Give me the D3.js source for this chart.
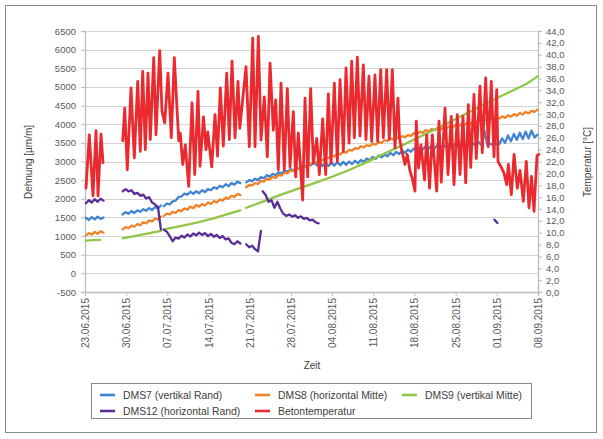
<!DOCTYPE html>
<html>
<head>
<meta charset="utf-8">
<script src="https://cdn.jsdelivr.net/npm/d3@7"></script>
<style>
  html, body { margin: 0; padding: 0; background: #fff; }
  svg { display: block; font-family: "Liberation Sans", Arial, sans-serif; }
</style>
</head>
<body>
<svg id="chart" width="603" height="439"></svg>
<script>
// ---- axes ----
const startDate = "23.06.2015";
const endDate = "08.09.2015";
const dateTicks = ["23.06.2015", "30.06.2015", "07.07.2015", "14.07.2015", "21.07.2015", "28.07.2015",
  "04.08.2015", "11.08.2015", "18.08.2015", "25.08.2015", "01.09.2015", "08.09.2015"];
const strainTicks = [-500, 0, 500, 1000, 1500, 2000, 2500, 3000, 3500, 4000, 4500, 5000, 5500, 6000, 6500];
const tempTicks = [0, 2, 4, 6, 8, 10, 12, 14, 16, 18, 20, 22, 24, 26, 28, 30, 32, 34, 36, 38, 40, 42, 44];

// ---- strain gauges [µm/m], sampled twice a day; each block: first day (since 23.06.) + readings ----
const sampleStep = 0.5;

const dms7 = [
  { start: 0.15, values: [1490, 1430, 1510, 1450, 1520, 1460, 1500] },
  { start: 6.4, values: [1580, 1640, 1600, 1670, 1620, 1690, 1650, 1720, 1680, 1750, 1700, 1780, 1740, 1820] },
  { start: 13.4, values: [1800, 1870, 1850, 1930, 1950, 2050, 2060, 2140, 2110, 2190, 2130, 2200, 2150, 2230,
    2180, 2260, 2230, 2310, 2270, 2350, 2310, 2390, 2340, 2420, 2380, 2460, 2420] },
  { start: 27.4, values: [2440, 2500, 2470, 2540, 2500, 2580, 2550, 2630, 2590, 2670,
    2630, 2710, 2680, 2760, 2720, 2800, 2760, 2840, 2800, 2880,
    2850, 2950, 2900, 2980, 2900, 2970, 2880, 2960, 2880, 2970,
    2890, 2980, 2900, 2990, 2910, 3000, 2930, 3020, 2950, 3040,
    2990, 3080, 3030, 3120, 3070, 3160, 3110, 3190, 3140, 3230,
    3170, 3260, 3200, 3290, 3230, 3320, 3260, 3350, 3290, 3380,
    3320, 3410, 3340, 3430, 3350, 3440, 3360, 3450, 3370, 3460,
    3380, 3470, 3390, 3480, 3400, 3490, 3410, 3500, 3420, 3520,
    3440, 3820, 3440, 3480, 3430, 3480, 3460, 3620, 3500, 3700,
    3540, 3740, 3580, 3770, 3600, 3800, 3620, 3830, 3640, 3720] }
];

const dms8 = [
  { start: 0.15, values: [1020, 1080, 1040, 1110, 1060, 1130, 1090] },
  { start: 6.4, values: [1180, 1240, 1210, 1280, 1250, 1320, 1290, 1370, 1340, 1420, 1390, 1470, 1440, 1520] },
  { start: 13.4, values: [1540, 1600, 1580, 1650, 1620, 1700, 1670, 1740, 1710, 1790, 1750, 1830, 1790, 1860,
    1820, 1900, 1860, 1940, 1900, 1980, 1950, 2030, 2000, 2080, 2050, 2130, 2100] },
  { start: 27.4, values: [2310, 2370, 2360, 2420, 2400, 2480, 2460, 2540, 2510, 2590,
    2560, 2640, 2620, 2700, 2680, 2760, 2740, 2820, 2800, 2880,
    2860, 2940, 2930, 3000, 2980, 3050, 3030, 3110, 3090, 3160,
    3140, 3210, 3190, 3260, 3240, 3310, 3290, 3360, 3340, 3410,
    3380, 3440, 3410, 3480, 3450, 3520, 3500, 3570, 3550, 3620,
    3590, 3650, 3620, 3680, 3650, 3710, 3690, 3760, 3730, 3800,
    3770, 3840, 3810, 3870, 3840, 3890, 3860, 3910, 3880, 3940,
    3910, 3970, 3940, 4000, 3970, 4030, 4000, 4060, 4030, 4090,
    4060, 4120, 4100, 4160, 4130, 4190, 4150, 4210, 4170, 4240,
    4200, 4270, 4230, 4300, 4260, 4330, 4290, 4360, 4330, 4390] }
];

const dms12 = [
  { start: 0.15, values: [1880, 1960, 1900, 1990, 1920, 2000, 1950] },
  { start: 6.4, values: [2200, 2260, 2200, 2230, 2130, 2160, 2080, 2110, 2010, 2040, 1900, 1850, 1780, 1180] },
  { start: 13.4, values: [1170, 1120, 1000, 860, 960, 930, 1010, 960, 1040, 990, 1070, 1020, 1090, 1030,
    1080, 1000, 1060, 980, 1030, 950, 1000, 910, 940, 820, 780, 860, 800] },
  { start: 27.4, values: [780, 700, 740, 650, 590, 1140] },
  { start: 30.2, values: [2200, 2100, 1920, 1960, 1760, 1920, 1740, 1600, 1540, 1580,
    1520, 1560, 1490, 1530, 1460, 1490, 1420, 1440, 1370, 1340] },
  { start: 69.6, values: [1440, 1350] }
];

// DMS9 is a smooth curve: [day since 23.06., µm/m]
const dms9 = [
  [[0.15, 880], [1.5, 890], [2.6, 900]],
  [[6.4, 940], [9.5, 1030], [12.9, 1140]],
  [[13.4, 1180], [16, 1260], [19, 1360], [22, 1480], [24.5, 1600], [26.4, 1690]],
  [[27.4, 1760], [30, 1910], [33, 2090], [36, 2260], [39, 2420], [42, 2590], [45, 2780], [48, 2990],
   [51, 3220], [54, 3440], [57, 3670], [60, 3900], [63, 4140], [66, 4380], [69, 4620], [72, 4850],
   [75, 5080], [77, 5290]]
];

// concrete temperature [°C]: [day since 23.06., value]
const betonTemp = [
  [[0.17, 17.5], [0.73, 26.5], [1.36, 16.2], [1.87, 27.2], [2.21, 16.2], [2.72, 26.6], [3.06, 21.8]],
  [[6.41, 25.5], [6.75, 31.0], [7.19, 20.6], [7.82, 34.4], [8.38, 22.6], [8.96, 35.5], [9.40, 23.7],
   [9.81, 37.2], [10.25, 24.0], [10.71, 36.9], [11.10, 25.7], [11.68, 39.5], [12.07, 26.5], [12.70, 40.7],
   [13.09, 30.5], [13.55, 28.5], [14.11, 36.9], [14.67, 26.0], [15.18, 39.5], [15.93, 25.5], [16.20, 26.8],
   [16.61, 21.5], [17.05, 24.8], [17.63, 17.8], [18.19, 31.9], [18.65, 19.8], [19.21, 33.8], [19.55, 21.2],
   [20.14, 29.5], [20.57, 24.0], [20.87, 27.0], [21.54, 21.1], [22.10, 29.9], [22.52, 22.9], [23.00, 34.4],
   [23.51, 24.6], [24.09, 36.9], [24.53, 25.7], [24.99, 38.9], [25.50, 26.0], [26.01, 35.5], [26.31, 27.6],
   [27.37, 38.0], [27.93, 24.5], [28.51, 42.8], [28.90, 24.5], [29.46, 43.1], [29.92, 25.6], [30.48, 32.9],
   [30.99, 22.8], [31.45, 38.6], [32.01, 27.3], [32.42, 32.4], [32.86, 20.6], [33.32, 35.2], [33.88, 20.6],
   [34.39, 34.3], [34.85, 21.1], [35.41, 30.4], [35.81, 19.4], [36.26, 26.8], [37.00, 15.5], [37.40, 32.7],
   [37.85, 19.4], [38.36, 34.3], [38.81, 21.7], [39.39, 25.9], [39.83, 19.8], [40.40, 29.2], [40.91, 19.8],
   [41.36, 33.4], [41.82, 21.7], [42.38, 35.2], [42.89, 22.0], [43.35, 35.8], [43.91, 23.7], [44.37, 37.8],
   [44.88, 25.1], [45.33, 38.9], [45.78, 26.0], [46.29, 39.6], [46.74, 26.3], [47.31, 38.3], [47.76, 25.7],
   [48.27, 36.4], [48.73, 25.4], [49.29, 36.6], [49.75, 25.4], [50.26, 37.5], [50.71, 26.0], [51.28, 37.5],
   [51.72, 25.7], [52.24, 37.5], [52.69, 24.3], [53.20, 32.7], [53.45, 26.0], [53.75, 24.3], [54.39, 21.5],
   [54.78, 23.2], [55.24, 20.4], [55.70, 18.9], [56.09, 17.0], [56.31, 28.8], [56.69, 20.9], [57.11, 24.8],
   [57.71, 18.9], [58.08, 26.5], [58.56, 17.5], [59.04, 26.5], [59.78, 17.0], [60.17, 28.8], [60.56, 18.5],
   [61.19, 31.0], [61.70, 19.8], [62.26, 29.6], [62.72, 18.1], [63.28, 29.9], [63.74, 19.8], [64.25, 29.6],
   [64.71, 18.4], [65.16, 31.6], [65.56, 21.0], [66.12, 33.3], [66.51, 22.5], [67.14, 34.7], [67.53, 23.5],
   [68.11, 36.1], [68.55, 24.5], [69.06, 35.5], [69.52, 22.8], [69.98, 34.1], [70.20, 22.0], [70.77, 21.0],
   [71.23, 20.0], [71.68, 18.1], [71.96, 21.5], [72.47, 16.4], [72.93, 23.2], [73.48, 17.5], [73.94, 20.5],
   [74.51, 15.3], [75.01, 22.0], [75.47, 14.2], [75.90, 19.5], [76.32, 13.6], [76.83, 23.0], [77.17, 23.2]]
];

const seriesNames = ["DMS7 (vertikal Rand)", "DMS8 (horizontal Mitte)", "DMS9 (vertikal Mitte)",
  "DMS12 (horizontal Rand)", "Betontemperatur"];
const seriesColors = ["#3f83d4", "#f28227", "#8fc744", "#5a2d96", "#ea2a2f"];

// ---- drawing ----
const svg = d3.select("#chart");
const parseDay = d3.utcParse("%d.%m.%Y");
const fmtDay = d3.utcFormat("%d.%m.%Y");
const t0 = parseDay(startDate);
const dayToDate = d => new Date(t0.getTime() + d * 864e5);

const plot = { left: 85, right: 538, top: 31, bottom: 292 };

const x = d3.scaleUtc().domain([t0, parseDay(endDate)]).range([plot.left, plot.right]);
const yL = d3.scaleLinear().domain([-500, 6500]).range([plot.bottom, plot.top]);
const yR = d3.scaleLinear().domain([0, 44]).range([plot.bottom, plot.top]);

const deLocale = d3.formatLocale({ decimal: ",", thousands: ".", grouping: [3], currency: ["", " €"] });
const fmtTemp = deLocale.format(".1f");

// outer frame
svg.append("rect").attr("x", 5.5).attr("y", 5.5).attr("width", 591).attr("height", 427)
  .attr("fill", "#fff").attr("stroke", "#8a8a8a").attr("stroke-width", 1);

// horizontal gridlines
svg.append("g").selectAll("line").data(strainTicks.slice(1)).join("line")
  .attr("x1", plot.left).attr("x2", plot.right)
  .attr("y1", d => Math.round(yL(d)) + 0.5).attr("y2", d => Math.round(yL(d)) + 0.5)
  .attr("stroke", "#d4d4d4").attr("stroke-width", 1.2);

// axes
const tickColor = "#bdbdbd";
const labelColor = "#595959";

const axL = d3.axisLeft(yL).tickValues(strainTicks).tickSize(4).tickPadding(5).tickFormat(d => String(d));
const gL = svg.append("g").attr("transform", `translate(${plot.left},0)`).call(axL);

const axR = d3.axisRight(yR).tickValues(tempTicks).tickSize(4).tickPadding(4).tickFormat(fmtTemp);
const gR = svg.append("g").attr("transform", `translate(${plot.right},0)`).call(axR);

const axB = d3.axisBottom(x).tickValues(dateTicks.map(parseDay)).tickSize(4).tickFormat(fmtDay);
const gB = svg.append("g").attr("transform", `translate(0,${plot.bottom})`).call(axB);

[gL, gR, gB].forEach(g => {
  g.select(".domain").attr("stroke", tickColor).attr("stroke-width", 1.3);
  g.selectAll(".tick line").attr("stroke", tickColor);
  g.selectAll("text").attr("fill", labelColor).attr("font-family", "Liberation Sans, Arial, sans-serif");
});
gL.selectAll("text").attr("font-size", 9.5);
gR.selectAll("text").attr("font-size", 9.5);
gB.selectAll("text").attr("font-size", 10)
  .attr("text-anchor", "end").attr("dy", "0.35em").attr("y", 0)
  .attr("transform", "translate(0,6) rotate(-90)");

// axis titles
const titleColor = "#404040";
svg.append("text").attr("transform", "translate(32,162) rotate(-90)")
  .attr("text-anchor", "middle").attr("font-size", 10).attr("fill", titleColor).text("Dehnung [µm/m]");
svg.append("text").attr("transform", "translate(591,162) rotate(-90)")
  .attr("text-anchor", "middle").attr("font-size", 10).attr("fill", titleColor).text("Temperatur [°C]");
svg.append("text").attr("x", 312).attr("y", 369)
  .attr("text-anchor", "middle").attr("font-size", 10).attr("fill", titleColor).text("Zeit");

// series
const blocksToPoints = blocks => {
  const pts = [];
  blocks.forEach((b, bi) => {
    if (bi > 0) pts.push(null);
    b.values.forEach((v, i) => pts.push([b.start + i * sampleStep, v]));
  });
  return pts;
};
const pairsToPoints = segs => {
  const pts = [];
  segs.forEach((s, si) => {
    if (si > 0) pts.push(null);
    s.forEach(p => pts.push(p));
  });
  return pts;
};

const lineL = d3.line().defined(d => d !== null).x(d => x(dayToDate(d[0]))).y(d => yL(d[1]));
const lineR = d3.line().defined(d => d !== null).x(d => x(dayToDate(d[0]))).y(d => yR(d[1]));

const plotG = svg.append("g").attr("fill", "none").attr("stroke-linejoin", "round").attr("stroke-linecap", "round");
plotG.append("path").attr("d", lineL(blocksToPoints(dms7))).attr("stroke", seriesColors[0]).attr("stroke-width", 2.3);
plotG.append("path").attr("d", lineL(blocksToPoints(dms8))).attr("stroke", seriesColors[1]).attr("stroke-width", 2.3);
plotG.append("path").attr("d", lineL(pairsToPoints(dms9))).attr("stroke", seriesColors[2]).attr("stroke-width", 2.3);
plotG.append("path").attr("d", lineL(blocksToPoints(dms12))).attr("stroke", seriesColors[3]).attr("stroke-width", 2.3);
plotG.append("path").attr("d", lineR(pairsToPoints(betonTemp))).attr("stroke", seriesColors[4]).attr("stroke-width", 2.8);

// legend
const legend = svg.append("g");
legend.append("rect").attr("x", 91.5).attr("y", 383.5).attr("width", 440).attr("height", 35)
  .attr("fill", "#fff").attr("stroke", "#8a8a8a").attr("stroke-width", 1);
const legendPos = [[100, 395], [255, 395], [402, 395], [100, 411], [255, 411]];
seriesNames.forEach((name, i) => {
  const [lx, ly] = legendPos[i];
  legend.append("line").attr("x1", lx).attr("x2", lx + 15).attr("y1", ly).attr("y2", ly)
    .attr("stroke", seriesColors[i]).attr("stroke-width", 2.6);
  legend.append("text").attr("x", lx + 23).attr("y", ly).attr("dy", "0.35em")
    .attr("font-size", 10.4).attr("fill", titleColor).text(name);
});
</script>
</body>
</html>
